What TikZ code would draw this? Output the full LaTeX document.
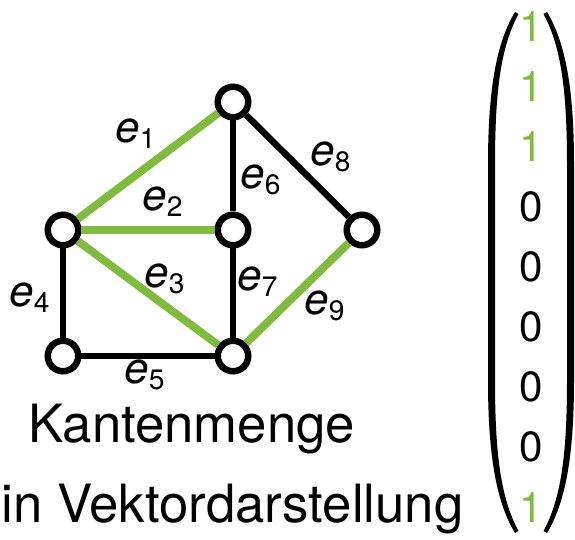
\documentclass[tikz,border=0pt]{standalone}
\usepackage{fontspec}
\setmainfont{TeX Gyre Heros}
\usetikzlibrary{positioning}
\definecolor{kGreen}{HTML}{7FBC3C}
\definecolor{kInk}{HTML}{000000}
% edge label e_k, italic e with a smaller upright index
\newcommand{\elbl}[1]{{\fontsize{25}{28}\selectfont\itshape e\raisebox{-3pt}{\fontsize{16}{18}\selectfont\upshape #1}}}
\tikzset{
  vert/.style={circle, draw=kInk, line width=3.7pt, fill=white,
    minimum size=0.61cm, inner sep=0pt},
  kante/.style={line width=3.7pt, draw=kInk},
  kanteg/.style={line width=4.5pt, draw=kGreen},
  elab/.style={anchor=base west, inner sep=0pt},
  caption/.style={font=\fontsize{30}{36}\selectfont, text=kInk, anchor=base, inner sep=0pt},
  entry/.style={font=\fontsize{24}{28}\selectfont, anchor=base, inner sep=0pt},
}

\begin{document}
\begin{tikzpicture}[x=0.02cm, y=-0.02cm]
  \useasboundingbox (0,0) rectangle (575,540);

  % vertices
  \node[vert] (v1) at (63,230)  {};
  \node[vert] (v2) at (233,102) {};
  \node[vert] (v3) at (233,230) {};
  \node[vert] (v4) at (362,230) {};
  \node[vert] (v5) at (63,356)  {};
  \node[vert] (v6) at (233,356) {};

  % edges, the chosen ones in green
  \draw[kanteg] (v1) -- (v2);
  \draw[kanteg] (v1) -- (v3);
  \draw[kanteg] (v1) -- (v6);
  \draw[kante]  (v1) -- (v5);
  \draw[kante]  (v5) -- (v6);
  \draw[kante]  (v2) -- (v3);
  \draw[kante]  (v3) -- (v6);
  \draw[kante]  (v2) -- (v4);
  \draw[kanteg] (v4) -- (v6);

  \node[elab] (l1) at (115,143) {\elbl{1}};
  \node[elab] (l2) at (142,211) {\elbl{2}};
  \node[elab] (l3) at (144,288) {\elbl{3}};
  \node[elab] (l4) at (9,307)   {\elbl{4}};
  \node[elab] (l5) at (124,384) {\elbl{5}};
  \node[elab] (l6) at (240,189) {\elbl{6}};
  \node[elab] (l7) at (237,291) {\elbl{7}};
  \node[elab] (l8) at (310,166) {\elbl{8}};
  \node[elab] (l9) at (304,315) {\elbl{9}};

  \node[caption] (t1) at (191.5,443) {Kantenmenge};
  \node[caption] (t2) at (232.5,522) {in Vektordarstellung};

  % the vector
  \foreach \val/\col [count=\i] in {1/kGreen,1/kGreen,1/kGreen,0/kInk,0/kInk,0/kInk,0/kInk,0/kInk,1/kGreen}
    \node[entry, text=\col] (b\i) at (531,{42+60*(\i-1)}) {\val};

  \fill[kInk] (515,12) .. controls (495,45) and (488,95) .. (488,165) -- (488,380)
    .. controls (488,450) and (495,500) .. (515,533) -- (518.5,531)
    .. controls (500,497) and (495,450) .. (495,380) -- (495,165)
    .. controls (495,95) and (500,48) .. (518.5,14) -- cycle;
  \fill[kInk] (547,12) .. controls (567,45) and (574,95) .. (574,165) -- (574,380)
    .. controls (574,450) and (567,500) .. (547,533) -- (543.5,531)
    .. controls (562,497) and (567,450) .. (567,380) -- (567,165)
    .. controls (567,95) and (562,48) .. (543.5,14) -- cycle;
\end{tikzpicture}
\end{document}
